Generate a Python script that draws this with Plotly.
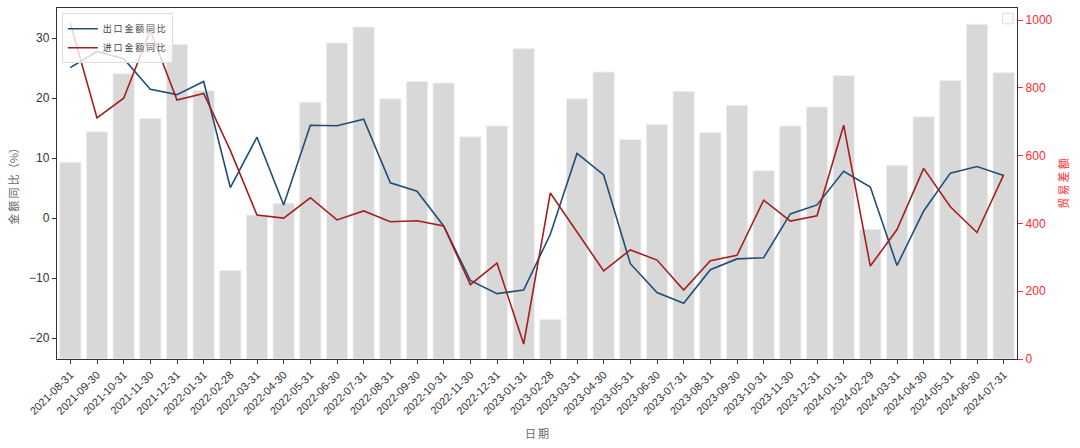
import plotly.graph_objects as go

dates = ["2021-08-31","2021-09-30","2021-10-31","2021-11-30","2021-12-31","2022-01-31",
         "2022-02-28","2022-03-31","2022-04-30","2022-05-31","2022-06-30","2022-07-31",
         "2022-08-31","2022-09-30","2022-10-31","2022-11-30","2022-12-31","2023-01-31",
         "2023-02-28","2023-03-31","2023-04-30","2023-05-31","2023-06-30","2023-07-31",
         "2023-08-31","2023-09-30","2023-10-31","2023-11-30","2023-12-31","2024-01-31",
         "2024-02-29","2024-03-31","2024-04-30","2024-05-31","2024-06-30","2024-07-31"]

trade_balance = [581, 671, 842, 710, 929, 792, 261, 425, 460, 758, 933, 980,
                 768, 819, 815, 656, 688, 916, 117, 768, 847, 648, 692, 790,
                 669, 749, 556, 688, 744, 837, 383, 572, 715, 822, 988, 845]

export_yoy = [25.1, 27.8, 26.6, 21.5, 20.6, 22.8, 5.1, 13.5, 2.2, 15.5, 15.4, 16.5,
              5.9, 4.5, -1.3, -10.4, -12.6, -12.0, -2.7, 10.8, 7.2, -7.6, -12.4, -14.2,
              -8.6, -6.8, -6.6, 0.7, 2.2, 7.8, 5.2, -7.9, 1.2, 7.5, 8.6, 7.1]

import_yoy = [32.5, 16.7, 20.0, 31.3, 19.7, 20.8, 11.3, 0.5, 0.0, 3.4, -0.3, 1.2,
              -0.6, -0.45, -1.3, -11.1, -7.5, -21.0, 4.2, -2.3, -8.8, -5.3, -7.0, -12.0,
              -7.1, -6.2, 3.0, -0.5, 0.4, 15.5, -8.0, -1.9, 8.3, 1.9, -2.4, 7.2]

BLUE = "#1f4e79"
RED = "#a31f1f"
CJK = "Noto Sans CJK SC"
TS = "\u2009"


def spaced(s):
    return TS.join(list(s))


fig = go.Figure()
fig.add_trace(go.Bar(x=dates, y=trade_balance, yaxis="y",
                     marker=dict(color="#d8d8d8", line=dict(color="#f0f0f0", width=1)),
                     width=0.8, showlegend=False, name="贸易差额"))
fig.add_trace(go.Scatter(x=dates, y=export_yoy, yaxis="y2", mode="lines", name=spaced("出口金额同比"),
                         line=dict(color=BLUE, width=1.6)))
fig.add_trace(go.Scatter(x=dates, y=import_yoy, yaxis="y2", mode="lines", name=spaced("进口金额同比"),
                         line=dict(color=RED, width=1.6)))

fig.update_layout(
    width=1080, height=448,
    margin=dict(l=57, r=63, t=8, b=89),
    paper_bgcolor="white", plot_bgcolor="white",
    font=dict(family="Liberation Sans, Arial", size=12, color="#333333"),
    bargap=0.2,
    xaxis=dict(type="category", range=[-0.5, 35.5], tickangle=-45,
               tickfont=dict(size=11, color="#333333"),
               ticks="outside", ticklen=4, tickcolor="#333333",
               showline=True, linecolor="#333333", linewidth=1.3, mirror=True,
               showgrid=False,
               title=dict(text=spaced("日期"), font=dict(family=CJK, size=11, color="#666666"), standoff=14)),
    yaxis=dict(side="right", range=[0, 1036], tickvals=[0, 200, 400, 600, 800, 1000],
               tickfont=dict(size=12, color="#ff2a2a"), ticks="outside", ticklen=5, tickcolor="#ff2a2a",
               showline=True, linecolor="#333333", linewidth=1.3, showgrid=False, zeroline=False,
               title=dict(text=spaced("贸易差额"), font=dict(family=CJK, size=11, color="#ff2a2a"), standoff=8)),
    yaxis2=dict(overlaying="y", side="left", range=[-23.5, 35.05], tickvals=[-20, -10, 0, 10, 20, 30],
                tickfont=dict(size=12, color="#333333"), ticks="outside", ticklen=4, tickcolor="#333333",
                showline=True, linecolor="#333333", linewidth=1.3, showgrid=False, zeroline=False,
                title=dict(text=spaced("金额同比") + "（%）", font=dict(family=CJK, size=11, color="#666666"), standoff=8)),
    legend=dict(x=0.005, y=0.985, xanchor="left", yanchor="top",
                bgcolor="rgba(255,255,255,0.8)", bordercolor="#dddddd", borderwidth=1,
                font=dict(family=CJK, size=9, color="#444444"), tracegroupgap=0, itemwidth=30),
    shapes=[dict(type="rect", xref="paper", yref="paper", x0=0.985, x1=0.996, y0=0.955, y1=0.985,
                 line=dict(color="#dddddd", width=1), fillcolor="rgba(255,255,255,0.8)")],
)

fig.write_html("out.html")
